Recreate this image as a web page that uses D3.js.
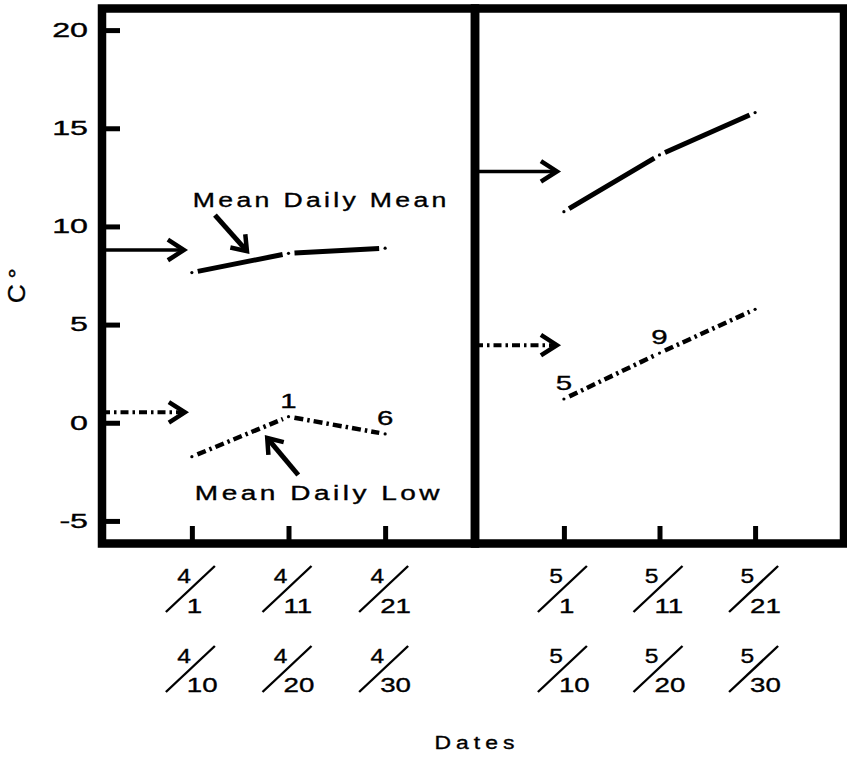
<!DOCTYPE html>
<html>
<head>
<meta charset="utf-8">
<script src="https://cdn.jsdelivr.net/npm/d3@7"></script>
<style>
body { margin: 0; background: #fff; }
text { font-family: "Liberation Sans", Arial, sans-serif; fill: #000; stroke: #000; stroke-width: 0.35px; }
</style>
</head>
<body>
<div id="chart"></div>
<script>
'use strict';
// ten-day periods (start / end of each period)
var aprilStart = ['4/1', '4/11', '4/21'];
var aprilEnd = ['4/10', '4/20', '4/30'];
var mayStart = ['5/1', '5/11', '5/21'];
var mayEnd = ['5/10', '5/20', '5/30'];

// temperatures, C
var aprilMean = [7.65, 8.63, 8.89];
var aprilLow = [-1.73, 0.31, -0.57];
var mayMean = [10.75, 13.64, 15.80];
var mayLow = [1.21, 3.55, 5.78];

// long term levels shown by the arrows at the left of each panel (april, may)
var normalMean = [8.8, 12.8];
var normalLow = [0.53, 3.95];

// numbers written over the low line
var aprilLowNotes = ['', '1', '6'];
var mayLowNotes = ['5', '9', ''];

var yTicks = [-5, 0, 5, 10, 15, 20];

var width = 847, height = 757;
var frame = {left: 102, mid: 475, right: 844, top: 8.5, bottom: 543.5};

var svg = d3.select('#chart').append('svg')
  .attr('width', width)
  .attr('height', height);

var y = d3.scaleLinear().domain([-6.15, 21.1]).range([frame.bottom, frame.top]);
var xA = d3.scalePoint().domain(aprilStart).range([frame.left, frame.mid]).padding(0.93);
var xM = d3.scalePoint().domain(mayStart).range([frame.mid, frame.right]).padding(0.93);

var dashDot = '9,4,2.5,4';

/* widen text like the wide lettering of the original */
function stretch(sel, k) {
  sel.each(function() {
    var len = this.getComputedTextLength();
    d3.select(this).attr('textLength', len * k).attr('lengthAdjust', 'spacingAndGlyphs');
  });
}

/* series drawn as separate segments with a small dot at each point */
function drawSeries(x, cats, vals, dash, sw) {
  var pts = cats.map(function(c, i) { return [x(c), y(vals[i])]; });
  var segs = d3.pairs(pts).map(function(p) {
    var dx = p[1][0] - p[0][0], dy = p[1][1] - p[0][1];
    var g0 = 6 / Math.hypot(dx, dy);
    return [[p[0][0] + dx * g0, p[0][1] + dy * g0], [p[1][0] - dx * g0, p[1][1] - dy * g0]];
  });
  var g = svg.append('g');
  g.selectAll('path')
    .data(segs)
    .enter()
    .append('path')
    .attr('d', d3.line())
    .attr('fill', 'none')
    .attr('stroke', '#000')
    .attr('stroke-width', sw)
    .attr('stroke-dasharray', dash);
  g.selectAll('circle')
    .data(pts)
    .enter()
    .append('circle')
    .attr('cx', function(d) { return d[0]; })
    .attr('cy', function(d) { return d[1]; })
    .attr('r', 1.6)
    .attr('fill', '#000');
  return pts;
}

function arrowHead(tip, dir, len, ang, sw) {
  var back = Math.atan2(-dir[1], -dir[0]);
  var a1 = back + ang, a2 = back - ang;
  svg.append('path')
    .attr('d', 'M' + (tip[0] + len * Math.cos(a1)) + ',' + (tip[1] + len * Math.sin(a1)) +
      'L' + tip[0] + ',' + tip[1] +
      'L' + (tip[0] + len * Math.cos(a2)) + ',' + (tip[1] + len * Math.sin(a2)))
    .attr('fill', 'none')
    .attr('stroke', '#000')
    .attr('stroke-width', sw)
    .attr('stroke-linejoin', 'miter');
}

/* level arrows from the panel wall */
function levelArrow(x0, x1, v, dash, sw) {
  svg.append('line')
    .attr('x1', x0).attr('x2', x1 - 3)
    .attr('y1', y(v)).attr('y2', y(v))
    .attr('stroke', '#000')
    .attr('stroke-width', sw)
    .attr('stroke-dasharray', dash);
  arrowHead([x1, y(v)], [1, 0], 19, Math.PI / 5.5, 4.5);
}

// data lines
var aMeanPts = drawSeries(xA, aprilStart, aprilMean, null, 5);
var aLowPts = drawSeries(xA, aprilStart, aprilLow, dashDot, 4.5);
drawSeries(xM, mayStart, mayMean, null, 5);
drawSeries(xM, mayStart, mayLow, dashDot, 4.5);

levelArrow(frame.left, xA(aprilStart[0]) - 8, normalMean[0], null, 3.5);
levelArrow(frame.left, xA(aprilStart[0]) - 7, normalLow[0], '8,4,2.5,4', 4);
levelArrow(frame.mid, xM(mayStart[0]) - 7, normalMean[1], null, 3.5);
levelArrow(frame.mid, xM(mayStart[0]) - 7, normalLow[1], '8,4,2.5,4', 4);

// numbers over the low line
function lowNotes(x, cats, vals, notes) {
  svg.append('g').selectAll('text')
    .data(notes)
    .enter()
    .append('text')
    .attr('x', function(d, i) { return x(cats[i]); })
    .attr('y', function(d, i) { return y(vals[i]) - 9; })
    .attr('text-anchor', 'middle')
    .style('font-size', '21px')
    .text(function(d) { return d; })
    .call(stretch, 1.4);
}
lowNotes(xA, aprilStart, aprilLow, aprilLowNotes);
lowNotes(xM, mayStart, mayLow, mayLowNotes);

// series labels with pointing arrows
function pointOn(pts, i, t) {
  return [pts[i][0] + (pts[i + 1][0] - pts[i][0]) * t, pts[i][1] + (pts[i + 1][1] - pts[i][1]) * t];
}
var meanTip = pointOn(aMeanPts, 0, 0.57);
meanTip[1] -= 10.5;
var meanTail = [meanTip[0] - 32, meanTip[1] - 36];
svg.append('line')
  .attr('x1', meanTail[0]).attr('y1', meanTail[1])
  .attr('x2', meanTip[0] - 2).attr('y2', meanTip[1] - 2.2)
  .attr('stroke', '#000').attr('stroke-width', 5);
arrowHead(meanTip, [32, 36], 17, Math.PI / 5, 4.5);

var lowTip = pointOn(aLowPts, 0, 0.78);
lowTip[1] += 12.5;
var lowTail = [lowTip[0] + 31, lowTip[1] + 37];
svg.append('line')
  .attr('x1', lowTail[0]).attr('y1', lowTail[1])
  .attr('x2', lowTip[0] + 2).attr('y2', lowTip[1] + 2.4)
  .attr('stroke', '#000').attr('stroke-width', 5);
arrowHead(lowTip, [-31, -37], 17, Math.PI / 5, 4.5);

svg.append('text')
  .attr('x', xA(aprilStart[0]) + 1)
  .attr('y', y(11))
  .style('font-size', '20px')
  .style('letter-spacing', '2.5px')
  .text('Mean Daily Mean')
  .call(stretch, 1.33);

svg.append('text')
  .attr('x', xA(aprilStart[0]) + 3)
  .attr('y', y(-3.93))
  .style('font-size', '20px')
  .style('letter-spacing', '2.5px')
  .text('Mean Daily Low')
  .call(stretch, 1.4);

// y axis, ticks pointing into the panel
var yAxis = svg.append('g')
  .attr('transform', 'translate(' + frame.left + ',0)')
  .call(d3.axisLeft(y).tickValues(yTicks).tickSize(-18).tickPadding(14)
    .tickFormat(function(d) { return String(d); }));
yAxis.select('.domain').remove();
yAxis.selectAll('.tick line').attr('stroke', '#000').attr('stroke-width', 5);
yAxis.selectAll('.tick text')
  .attr('fill', '#000')
  .style('font-size', '19.5px')
  .style('font-family', '"Liberation Sans", Arial, sans-serif')
  .call(stretch, 1.65);

// x axes, one per panel
[[xA, aprilStart, aprilEnd], [xM, mayStart, mayEnd]].forEach(function(p) {
  var x = p[0];
  var ax = svg.append('g')
    .attr('transform', 'translate(0,' + frame.bottom + ')')
    .call(d3.axisBottom(x).tickSize(-17.5).tickFormat(''));
  ax.select('.domain').remove();
  ax.selectAll('.tick line').attr('stroke', '#000').attr('stroke-width', 5);

  // date labels written as fractions: month over day
  var rows = [{labels: p[1], num: 583, den: 613}, {labels: p[2], num: 663, den: 692}];
  rows.forEach(function(r) {
    var g = svg.append('g').selectAll('g')
      .data(r.labels)
      .enter()
      .append('g')
      .attr('transform', function(d, i) { return 'translate(' + x(p[1][i]) + ',0)'; });
    g.append('text')
      .attr('x', -1)
      .attr('y', r.num)
      .attr('text-anchor', 'end')
      .style('font-size', '20.5px')
      .text(function(d) { return d.split('/')[0]; })
      .call(stretch, 1.2);
    g.append('line')
      .attr('x1', -26).attr('y1', r.num + 29)
      .attr('x2', 23).attr('y2', r.num - 17)
      .attr('stroke', '#000')
      .attr('stroke-width', 2.4);
    g.append('text')
      .attr('x', -5)
      .attr('y', r.den)
      .style('font-size', '20.5px')
      .text(function(d) { return d.split('/')[1]; })
      .call(stretch, 1.35);
  });
});

// panel frames
svg.append('g').selectAll('rect')
  .data([[frame.left, frame.mid], [frame.mid, frame.right]])
  .enter()
  .append('rect')
  .attr('x', function(d) { return d[0]; })
  .attr('y', frame.top)
  .attr('width', function(d) { return d[1] - d[0]; })
  .attr('height', frame.bottom - frame.top)
  .attr('fill', 'none')
  .attr('stroke', '#000')
  .attr('stroke-width', 8.5);

// axis titles
svg.append('text')
  .attr('x', frame.mid + 2)
  .attr('y', 749)
  .attr('text-anchor', 'middle')
  .style('font-size', '18px')
  .style('letter-spacing', '4px')
  .text('Dates')
  .call(stretch, 1.27);

svg.append('text')
  .attr('transform', 'translate(25,283) rotate(-90)')
  .attr('text-anchor', 'middle')
  .style('font-size', '24px')
  .style('letter-spacing', '5px')
  .text('C°')
  .call(stretch, 1.1);
</script>
</body>
</html>
